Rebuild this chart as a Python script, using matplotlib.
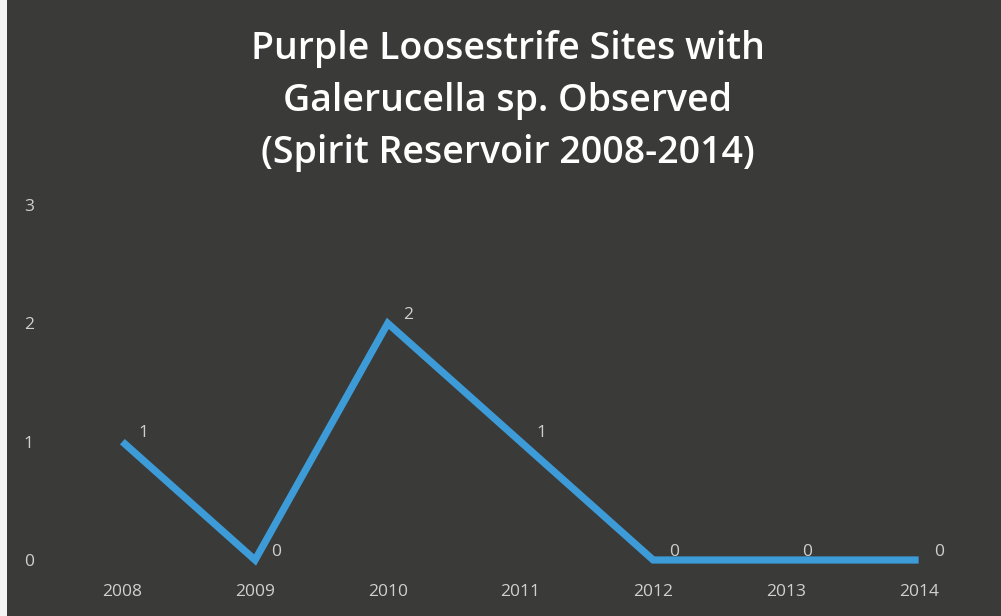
import matplotlib
matplotlib.use("Agg")
import matplotlib.pyplot as plt
from matplotlib.patches import Rectangle

years = ["2008", "2009", "2010", "2011", "2012", "2013", "2014"]
sites = [1, 0, 2, 1, 0, 0, 0]
y_ticks = [0, 1, 2, 3]
title = "Purple Loosestrife Sites with\nGalerucella sp. Observed\n(Spirit Reservoir 2008-2014)"

bg = "#3a3a38"
fig = plt.figure(figsize=(10.01, 6.16), dpi=100, facecolor=bg)
fig.patches.append(Rectangle((0, 0), 0.007, 1, transform=fig.transFigure,
                             facecolor="#f4f4f4", edgecolor="none", zorder=0))

ax = fig.add_axes([56 / 1001, 56 / 616, 929 / 1001, 355 / 616])
ax.set_facecolor("none")
x = list(range(len(years)))
ax.plot(x, sites, color="#3d9bd8", lw=5.2, solid_capstyle="butt", solid_joinstyle="miter", clip_on=False)
for xi, v in zip(x, sites):
    ax.annotate(str(v), (xi, v), xytext=(15, 6), textcoords="offset points",
                color="#cfcfcf", fontsize=12.5, family="Open Sans", ha="center", va="center")

ax.set_xlim(-0.5, 6.5)
ax.set_ylim(0, 3)
ax.set_xticks(x)
ax.set_xticklabels(years)
ax.set_yticks(y_ticks)
for s in ax.spines.values():
    s.set_visible(False)
ax.tick_params(axis="both", length=0, colors="#d0d0d0", labelsize=12.5)
ax.tick_params(axis="x", pad=17)
ax.tick_params(axis="y", pad=16)
for lab in ax.get_xticklabels() + ax.get_yticklabels():
    lab.set_family("Open Sans")

t = fig.text(0.507, 0.836, title, ha="center", va="center", color="white",
             fontsize=27, fontweight="semibold", family="Open Sans", linespacing=1.48)

fig.savefig("out.png", dpi=100, facecolor=bg)
